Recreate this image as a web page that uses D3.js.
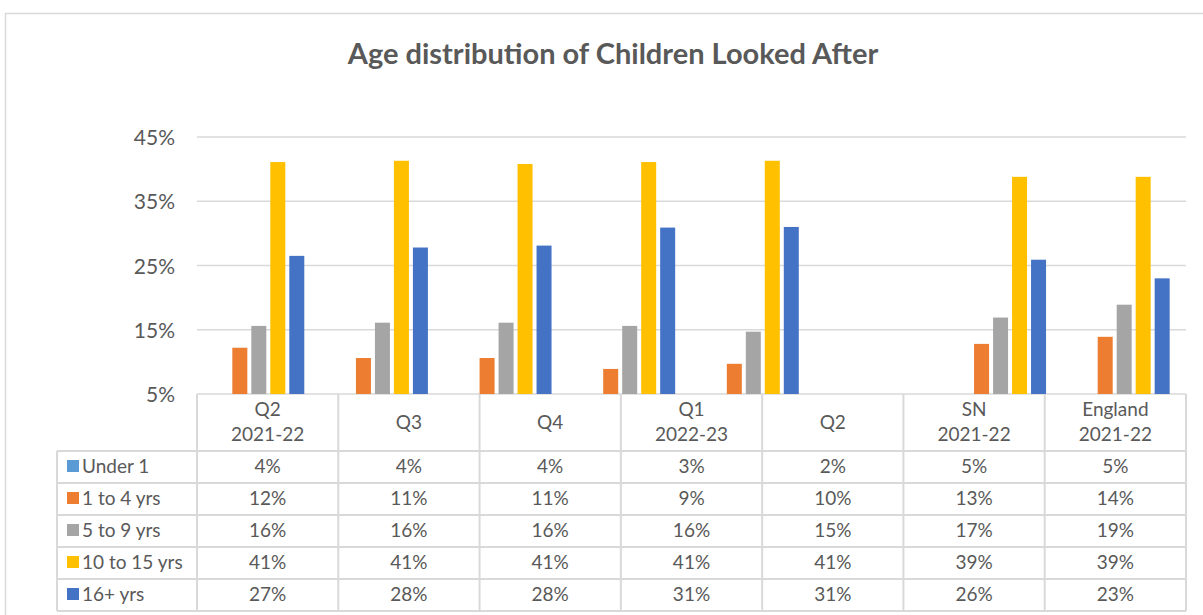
<!DOCTYPE html>
<html>
<head>
<meta charset="utf-8">
<script src="https://cdn.jsdelivr.net/npm/d3@7"></script>
<style>
  body { margin: 0; background: #fff; }
  text { font-family: Lato, "Open Sans", sans-serif; fill: #595959; }
</style>
</head>
<body>
<div id="chart"></div>
<script>
// chart categories (one blank slot between Q2 and SN, as in the source chart)
const categories = ["Q2\n2021-22", "Q3", "Q4", "Q1\n2022-23", "Q2", "", "SN\n2021-22", "England\n2021-22"];
const seriesNames = ["Under 1", "1 to 4 yrs", "5 to 9 yrs", "10 to 15 yrs", "16+ yrs"];
const seriesColors = ["#5B9BD5", "#ED7D31", "#A5A5A5", "#FFC000", "#4472C4"];

// values in percent, null = blank category
const under1 = [4, 4, 4, 3, 2, null, 5, 5];
const oneToFour = [12.2, 10.6, 10.6, 8.9, 9.7, null, 12.8, 13.9];
const fiveToNine = [15.6, 16.1, 16.1, 15.6, 14.7, null, 16.9, 18.9];
const tenToFifteen = [41.1, 41.3, 40.8, 41.1, 41.3, null, 38.8, 38.8];
const sixteenPlus = [26.5, 27.8, 28.1, 30.9, 31.0, null, 25.9, 23.0];

const yTicks = [5, 15, 25, 35, 45];

const seriesValues = [under1, oneToFour, fiveToNine, tenToFifteen, sixteenPlus];

const width = 1203;
const height = 615;
const plotLeft = 197;
const plotRight = 1186;
const plotTop = 137;
const plotBottom = 394;

const svg = d3
  .select("#chart")
  .append("svg")
  .attr("width", width)
  .attr("height", height);

// chart border
svg
  .append("rect")
  .attr("x", 5.5)
  .attr("y", 13.5)
  .attr("width", 1210)
  .attr("height", 620)
  .attr("fill", "none")
  .attr("stroke", "#D9D9D9")
  .attr("stroke-width", 1.5);

svg
  .append("text")
  .attr("x", 613)
  .attr("y", 64)
  .attr("text-anchor", "middle")
  .style("font-size", "29px")
  .style("font-weight", "bold")
  .text("Age distribution of Children Looked After");

const y = d3.scaleLinear().domain([5, 45]).range([plotBottom, plotTop]);

const x0 = d3
  .scaleBand()
  .domain(d3.range(categories.length))
  .range([plotLeft, plotRight]);

const x1 = d3
  .scaleBand()
  .domain(d3.range(seriesNames.length))
  .range([0, x0.bandwidth()])
  .paddingInner(0.21)
  .paddingOuter(0.86);

// gridlines
svg
  .append("g")
  .selectAll("line")
  .data(yTicks)
  .join("line")
  .attr("x1", plotLeft)
  .attr("x2", plotRight)
  .attr("y1", (d) => y(d))
  .attr("y2", (d) => y(d))
  .attr("stroke", "#D9D9D9")
  .attr("stroke-width", 1.5);

// y tick labels
svg
  .append("g")
  .selectAll("text")
  .data(yTicks)
  .join("text")
  .attr("x", 175)
  .attr("y", (d) => y(d) + 8)
  .attr("text-anchor", "end")
  .style("font-size", "21px")
  .text((d) => d + "%");

// bars
seriesValues.forEach((vals, s) => {
  svg
    .append("g")
    .selectAll("rect")
    .data(vals.map((v, i) => ({ v, i })).filter((d) => d.v !== null && d.v > 5))
    .join("rect")
    .attr("x", (d) => x0(d.i) + x1(s))
    .attr("y", (d) => y(d.v))
    .attr("width", x1.bandwidth())
    .attr("height", (d) => y(5) - y(d.v))
    .attr("fill", seriesColors[s]);
});

// data table (blank category left out)
const tableCols = categories.map((c, i) => ({ c, i })).filter((d) => d.c !== "");
const tx = d3
  .scaleBand()
  .domain(d3.range(tableCols.length))
  .range([plotLeft, plotRight]);

const headerBottom = 451;
const rowH = 32;
const tableLeft = 57;
const tableBottom = headerBottom + rowH * seriesNames.length;
const table = svg.append("g");
const gridColor = "#D9D9D9";

// vertical column lines
table
  .selectAll("line.col")
  .data(d3.range(tableCols.length + 1))
  .join("line")
  .attr("class", "col")
  .attr("x1", (d) => plotLeft + d * tx.step())
  .attr("x2", (d) => plotLeft + d * tx.step())
  .attr("y1", plotBottom)
  .attr("y2", tableBottom)
  .attr("stroke", gridColor)
  .attr("stroke-width", 2);

// left edge of legend column
table
  .append("line")
  .attr("x1", tableLeft)
  .attr("x2", tableLeft)
  .attr("y1", headerBottom)
  .attr("y2", tableBottom)
  .attr("stroke", gridColor)
  .attr("stroke-width", 2);

// horizontal row lines
table
  .selectAll("line.row")
  .data(d3.range(seriesNames.length + 1))
  .join("line")
  .attr("class", "row")
  .attr("x1", tableLeft)
  .attr("x2", plotRight)
  .attr("y1", (d) => headerBottom + d * rowH)
  .attr("y2", (d) => headerBottom + d * rowH)
  .attr("stroke", gridColor)
  .attr("stroke-width", 2);

// header labels
tableCols.forEach((col, j) => {
  const lines = col.c.split("\n");
  const cx = tx(j) + tx.bandwidth() / 2;
  const t = table
    .append("text")
    .attr("x", cx)
    .attr("text-anchor", "middle")
    .style("font-size", "19px");
  if (lines.length === 2) {
    t.append("tspan").attr("x", cx).attr("y", 416).text(lines[0]);
    t.append("tspan").attr("x", cx).attr("y", 441).text(lines[1]);
  } else {
    t.attr("y", 429).text(lines[0]);
  }
});

// row legend and values
seriesNames.forEach((name, s) => {
  const top = headerBottom + s * rowH;
  table
    .append("rect")
    .attr("x", 67)
    .attr("y", top + 9)
    .attr("width", 12)
    .attr("height", 12)
    .attr("fill", seriesColors[s]);
  table
    .append("text")
    .attr("x", 82)
    .attr("y", top + 22)
    .style("font-size", "19px")
    .text(name);
  tableCols.forEach((col, j) => {
    table
      .append("text")
      .attr("x", tx(j) + tx.bandwidth() / 2)
      .attr("y", top + 22)
      .attr("text-anchor", "middle")
      .style("font-size", "19px")
      .text(Math.round(seriesValues[s][col.i]) + "%");
  });
});
</script>
</body>
</html>
